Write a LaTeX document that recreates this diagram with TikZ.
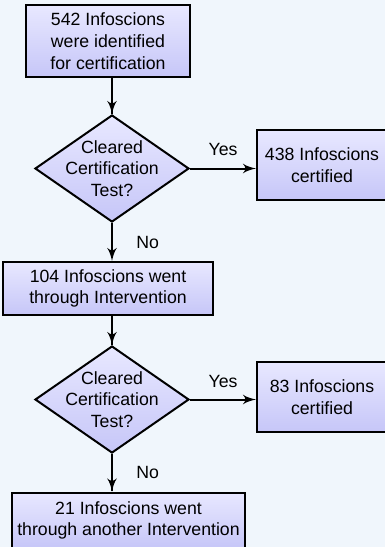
\documentclass[tikz,border=0pt]{standalone}
\usepackage{fontspec}
\setmainfont{Liberation Sans}
\usepackage{tikz}
\usetikzlibrary{arrows}
\usetikzlibrary{decorations.markings}
\usetikzlibrary{shapes.geometric}
\usetikzlibrary{calc}
\tikzset{->/.style = {decoration={markings,
                                  mark=at position 1 with {\arrow[scale=1.5]{latex'}}},
                      postaction={decorate}}}
\tikzset{flow/.style = {line width = 2pt}}
\tikzset{stepbox/.style = {draw, line width = 2pt, top color = boxtop, bottom color = boxbot,
                           align = center, inner sep = 0, font = \fontsize{17.7}{21.7}\selectfont}}
\tikzset{decide/.style = {stepbox, diamond, inner sep = -10pt, aspect = 1.44,
                          minimum width = 154, minimum height = 107}}
\tikzset{lbl/.style = {font = \fontsize{17.7}{21.7}\selectfont}}
\definecolor{bgblue}{RGB}{240, 246, 252}
\definecolor{boxtop}{RGB}{232, 232, 255}
\definecolor{boxbot}{RGB}{198, 198, 248}

\begin{document}
\begin{tikzpicture}[x=1pt, y=-1pt]
      \fill [bgblue] (0, 0) rectangle (385, 547);
      \useasboundingbox (0, 0) rectangle (385, 547);

      \node [stepbox, minimum width = 164, minimum height = 72] (ident) at (108, 41)
            {542 Infoscions\\were identified\\for certification};
      \node [decide] (test1) at (112, 168.5) {Cleared\\Certification\\Test?};
      \node [stepbox, minimum width = 130, minimum height = 70.5] (cert1) at (322, 165)
            {438 Infoscions\\certified};
      \node [stepbox, minimum width = 210, minimum height = 53] (inter1) at (108, 288.5)
            {104 Infoscions went\\through Intervention};
      \node [decide] (test2) at (112, 399.5) {Cleared\\Certification\\Test?};
      \node [stepbox, minimum width = 130, minimum height = 70.5] (cert2) at (322, 397)
            {83 Infoscions\\certified};
      \node [stepbox, minimum width = 233, minimum height = 56] (inter2) at (128.5, 520.5)
            {21 Infoscions went\\through another Intervention};

      \draw [flow, ->] (test1.north |- ident.south) -- (test1.north);
      \draw [flow, ->, shorten >= 7pt] (test1.east) -- node [lbl, above = 8pt] {Yes} (test1.east -| cert1.west);
      \draw [flow, ->, shorten >= 3pt] (test1.south) -- node [lbl, right = 20pt] {No} (test1.south |- inter1.north);

      \draw [flow, ->] (test2.north |- inter1.south) -- (test2.north);
      \draw [flow, ->, shorten >= 7pt] (test2.east) -- node [lbl, above = 8pt] {Yes} (test2.east -| cert2.west);
      \draw [flow, ->, shorten >= 1pt] (test2.south) -- node [lbl, right = 20pt] {No} (test2.south |- inter2.north);
    \end{tikzpicture}
\end{document}
